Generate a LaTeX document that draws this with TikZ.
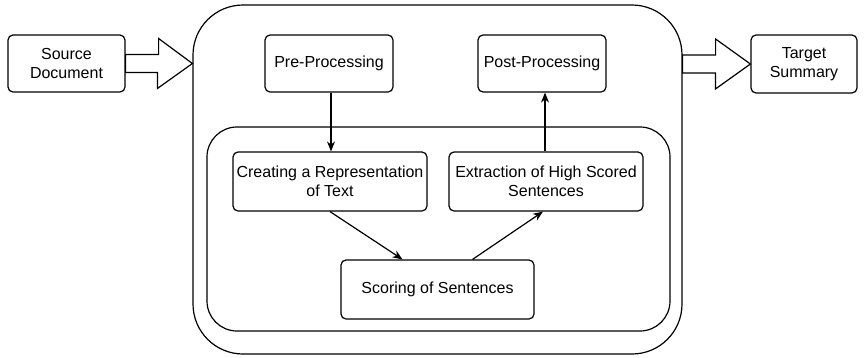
\documentclass[tikz,border=0pt]{standalone}
\usepackage{fontspec}
\setmainfont{Liberation Sans}
\usetikzlibrary{arrows.meta,calc}
\begin{document}
\begin{tikzpicture}[x=1pt,y=-1pt,
  line width=1.2pt,
  every node/.style={font=\fontsize{16}{19}\selectfont},
  box/.style={draw, rounded corners=5pt, align=center, inner sep=0pt, minimum height=57pt},
  frame/.style={draw, inner sep=0pt},
  flow/.style={-{Stealth[length=10pt,width=8pt]}},
  hollow/.style={draw, fill=white, line join=miter}
]
\useasboundingbox (0,0) rectangle (864,357);

% outer and inner frames
\node[frame, rounded corners=50pt, minimum width=489pt, minimum height=349pt] (outer) at (437.5,179.5) {};
\node[frame, rounded corners=30pt, minimum width=463pt, minimum height=204pt] (inner) at (438.5,229) {};

% input and output
\node[box, minimum width=117pt] (src) at (66.5,63.5) {Source\\Document};
\node[box, minimum width=106pt, minimum height=58pt] (tgt) at (804,64) {Target\\Summary};

% processing steps
\node[box, minimum width=128pt] (pre) at (329,63.5) {Pre-Processing};
\node[box, minimum width=128pt] (post) at (542,63.5) {Post-Processing};
\node[box, minimum width=194pt, minimum height=59pt] (create) at (330,181.5) {Creating a Representation\\of Text};
\node[box, minimum width=194pt, minimum height=59pt] (extract) at (546,181.5) {Extraction of High Scored\\Sentences};
\node[box, minimum width=193pt, minimum height=59pt] (score) at (437.5,289.5) {Scoring of Sentences};

% block arrows into and out of the summarizer
\coordinate (tipin) at (outer.west |- src.east);
\draw[hollow] (src.east) ++(0,-9) -- ++(33,0) -- ++(0,-16) -- (tipin) -- ($(tipin)+(-35,25)$) -- ++(0,-16) -- ($(src.east)+(0,9)$) -- cycle;
\coordinate (tipout) at (tgt.west);
\coordinate (outbase) at (outer.east |- tgt.west);
\draw[hollow] ($(outbase)+(0,-9)$) -- ++(33,0) -- ++(0,-16) -- (tipout) -- ($(tipout)+(-35,25)$) -- ++(0,-16) -- ($(outbase)+(0,9)$) -- cycle;

% flow between steps
\coordinate (downstart) at ($(pre.south)+(2,0)$);
\coordinate (downend) at (downstart |- create.north);
\coordinate (upstart) at ($(extract.north)+(-1,0)$);
\coordinate (upend) at (upstart |- post.south);
\draw[flow] (downstart) -- (downend);
\draw[flow] (create.south) -- ($(score.north)+(-35,0)$);
\draw[flow] ($(score.north)+(35,0)$) -- ($(extract.south)+(-3,0)$);
\draw[flow] (upstart) -- (upend);
\end{tikzpicture}
\end{document}
